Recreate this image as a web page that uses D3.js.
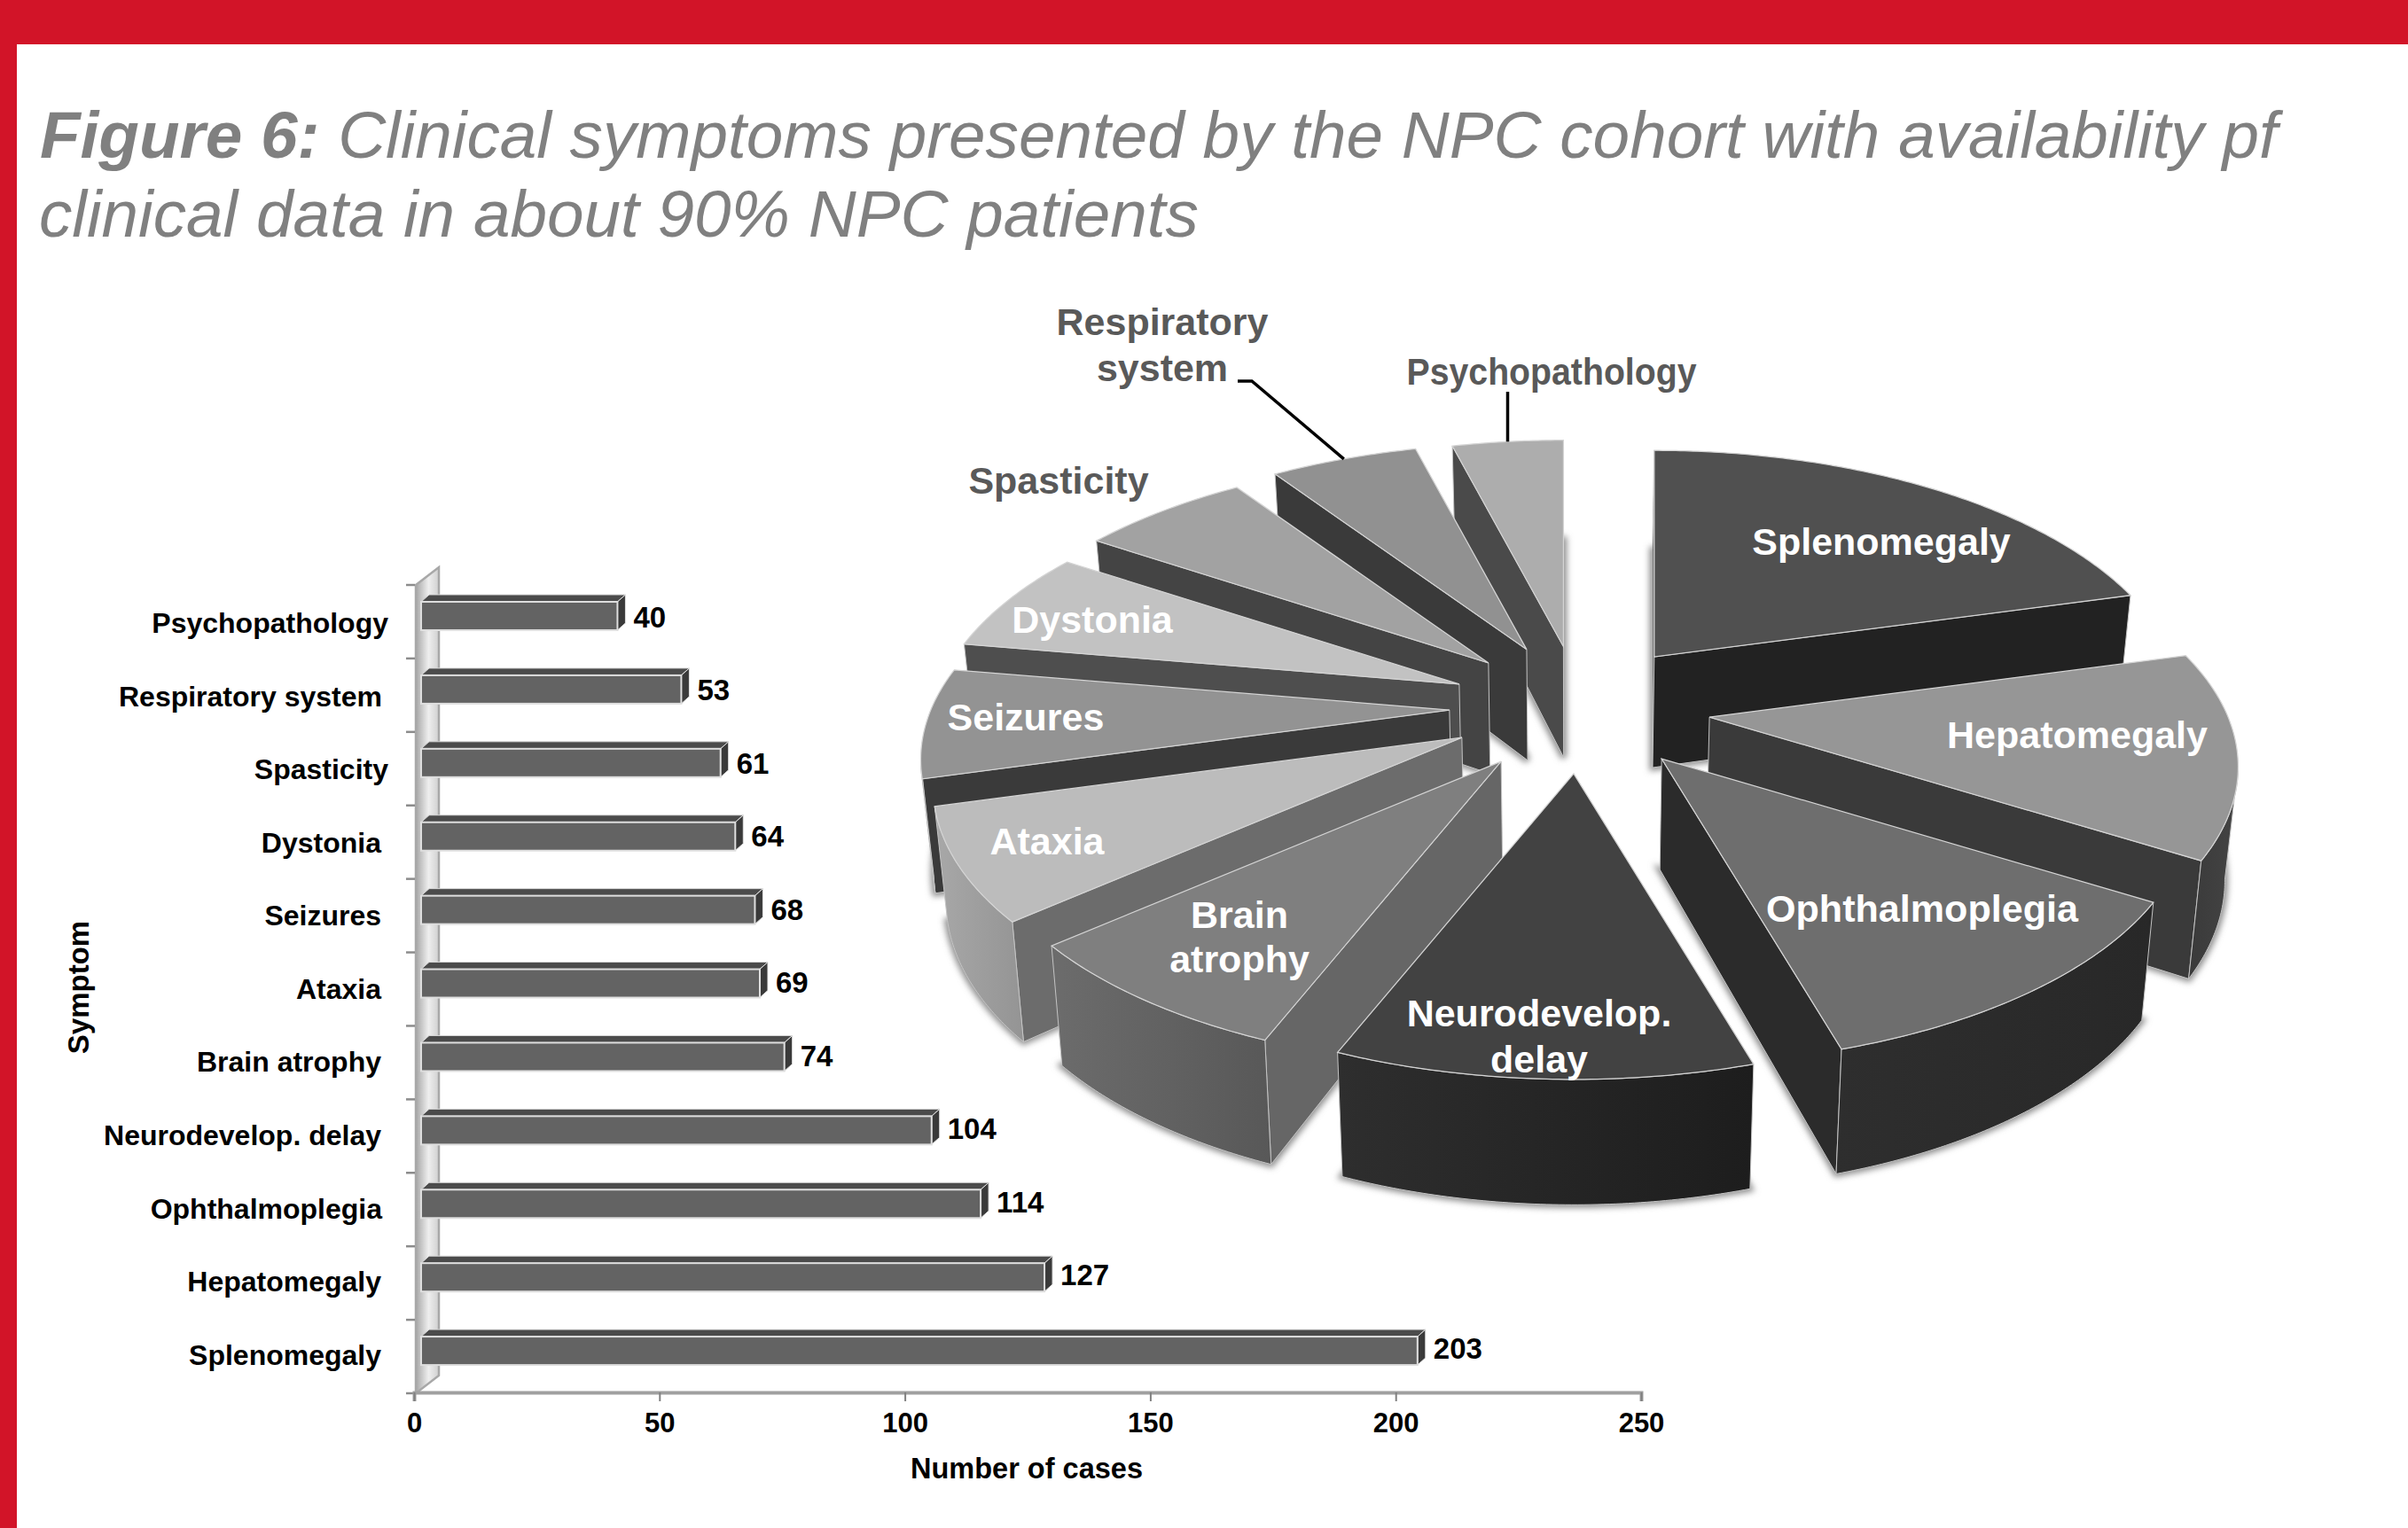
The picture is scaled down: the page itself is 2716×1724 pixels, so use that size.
<!DOCTYPE html>
<html>
<head>
<meta charset="utf-8">
<style>
  html, body { margin: 0; padding: 0; background: #fff; }
  svg { display: block; }
  text { font-family: "Liberation Sans", Arial, sans-serif; }
</style>
<script src="https://cdn.jsdelivr.net/npm/d3@7/dist/d3.min.js"></script>
</head>
<body>
<svg id="fig" width="2716" height="1724"></svg>
<script>
// Cases per symptom, most frequent first
const symptoms = ["Splenomegaly", "Hepatomegaly", "Ophthalmoplegia", "Neurodevelop. delay", "Brain atrophy",
                  "Ataxia", "Seizures", "Dystonia", "Spasticity", "Respiratory system", "Psychopathology"];
const cases = [203, 127, 114, 104, 74, 69, 68, 64, 61, 53, 40];
const xTicks = [0, 50, 100, 150, 200, 250];

// How far each wedge is pulled out of the pie, and in which direction (degrees clockwise from the back)
const explode = [0.243, 0.267, 0.279, 0.282, 0.272, 0.256, 0.241, 0.233, 0.230, 0.234, 0.228];
const explodeBearing = [41.4, 104.7, 144.5, 180, 209.4, 234.9, 260.6, 286.4, 312.6, 336.2, 354.8];

// Wedge shades: top face, cut face, outer wall (left and right ends of its gradient)
const topShade = ["#505050", "#969696", "#6e6e6e", "#424242", "#7f7f7f", "#bcbcbc", "#939393", "#c2c2c2", "#a2a2a2", "#919191", "#adadad"];
const cutShade = ["#222222", "#3a3a3a", "#2b2b2b", "#232323", "#666666", "#6c6c6c", "#3a3a3a", "#4e4e4e", "#444444", "#3a3a3a", "#4a4a4a"];
const wallFrom = ["#222222", "#3a3a3a", "#2e2e2e", "#2e2e2e", "#6c6c6c", "#a8a8a8", "#3a3a3a", "#4e4e4e", "#444444", "#3a3a3a", "#4a4a4a"];
const wallTo   = ["#222222", "#444444", "#282828", "#1d1d1d", "#585858", "#949494", "#3a3a3a", "#4e4e4e", "#444444", "#3a3a3a", "#4a4a4a"];

const svg = d3.select("#fig");
const defs = svg.append("defs");

// Page frame
const red = "#d21428";
svg.append("rect").attr("x", 0).attr("y", 0).attr("width", 2716).attr("height", 50).attr("fill", red);
svg.append("rect").attr("x", 0).attr("y", 0).attr("width", 19).attr("height", 1724).attr("fill", red);

// Heading
const heading = svg.append("g").attr("fill", "#808080").attr("font-size", 74.7).attr("font-style", "italic");
const line1 = heading.append("text").attr("x", 45).attr("y", 178);
line1.append("tspan").attr("font-weight", "bold").text("Figure 6:");
line1.append("tspan").text(" Clinical symptoms presented by the NPC cohort with availability pf");
heading.append("text").attr("x", 44).attr("y", 267).text("clinical data in about 90% NPC patients");

/* ---------- Bar chart ---------- */
const x = d3.scaleLinear().domain([0, 250]).range([467, 1851]);
const y = d3.scaleBand().domain(symptoms.slice().reverse()).range([660, 1572]);
// Text rows run on a slightly tighter pitch than the bars
const yText = d3.scaleBand().domain(y.domain()).range([661.7, 661.7 + 11 * 82.55]);
const wallDx = 26, wallDy = 20, barInset = 8, barDepthX = 9, barDepthY = 8, barTop = 19, barHeight = 32;

const wallGrad = defs.append("linearGradient").attr("id", "wall");
wallGrad.append("stop").attr("offset", 0).attr("stop-color", "#a6a6a6");
wallGrad.append("stop").attr("offset", 0.55).attr("stop-color", "#eeeeee");
wallGrad.append("stop").attr("offset", 1).attr("stop-color", "#d0d0d0");

const [y0, y1] = y.range();
const chart = svg.append("g");
chart.append("path")
  .attr("d", d3.line()([[x(0) + 2, y0], [x(0) + 2 + wallDx, y0 - wallDy], [x(0) + 2 + wallDx, y1 - wallDy], [x(0) + 2, y1]]) + "Z")
  .attr("fill", "url(#wall)").attr("stroke", "#a8a8a8").attr("stroke-width", 2.5);

// Category ticks sit on the band boundaries
chart.append("g").selectAll("line").data(d3.range(symptoms.length + 1)).join("line")
  .attr("x1", x(0) - 9).attr("x2", x(0) + 1)
  .attr("y1", i => y0 + i * y.bandwidth()).attr("y2", i => y0 + i * y.bandwidth())
  .attr("stroke", "#8c8c8c").attr("stroke-width", 2.5);

// Value axis
const xAxis = chart.append("g").attr("transform", `translate(0,${y1 - 1})`)
  .call(d3.axisBottom(x).tickValues(xTicks).tickSize(10).tickPadding(13));
xAxis.select(".domain").attr("stroke", "#a0a0a0").attr("stroke-width", 4);
xAxis.selectAll(".tick line").attr("stroke", "#808080").attr("stroke-width", 2);
xAxis.selectAll(".tick text").attr("font-family", "Liberation Sans").attr("font-size", 31).attr("font-weight", "bold").attr("fill", "#000");

// Bars with their small extruded top and end
const rows = symptoms.map((name, i) => ({ name, value: cases[i] }));
const bar = chart.append("g").selectAll("g").data(rows).join("g");
const left = x(0) + barInset;
const front = d => y(d.name) + barTop;
const right = d => left + x(d.value) - x(0);

bar.append("path")
  .attr("d", d => d3.line()([[left, front(d)], [left + barDepthX, front(d) - barDepthY],
                             [right(d) + barDepthX, front(d) - barDepthY], [right(d), front(d)]]) + "Z")
  .attr("fill", "#4b4b4b").attr("stroke", "#d8d8d8").attr("stroke-width", 1);
bar.append("path")
  .attr("d", d => d3.line()([[right(d), front(d)], [right(d) + barDepthX, front(d) - barDepthY],
                             [right(d) + barDepthX, front(d) + barHeight - barDepthY], [right(d), front(d) + barHeight]]) + "Z")
  .attr("fill", "#3a3a3a").attr("stroke", "#e4e4e4").attr("stroke-width", 1);
bar.append("rect")
  .attr("x", left).attr("y", front).attr("width", d => right(d) - left).attr("height", barHeight)
  .attr("fill", "#636363").attr("stroke", "#dedede").attr("stroke-width", 2);

bar.append("text")
  .attr("x", d => right(d) + 18).attr("y", d => yText(d.name) + yText.bandwidth() / 2 - 7).attr("dy", "0.35em")
  .attr("font-size", 33).attr("font-weight", "bold").attr("fill", "#000")
  .text(d => d.value);

// Category labels; a few sit further right than the common edge
const labelEnd = { "Psychopathology": 438, "Spasticity": 438, "Respiratory system": 431, "Ophthalmoplegia": 431 };
chart.append("g").selectAll("text").data(rows).join("text")
  .attr("x", d => labelEnd[d.name] || 430).attr("y", d => yText(d.name) + yText.bandwidth() / 2).attr("dy", "0.35em")
  .attr("text-anchor", "end").attr("font-size", 32).attr("font-weight", "bold").attr("fill", "#000")
  .text(d => d.name);

chart.append("text").attr("x", 1158).attr("y", 1657).attr("dy", "0.35em").attr("text-anchor", "middle")
  .attr("font-size", 32.5).attr("font-weight", "bold").text("Number of cases");
chart.append("text").attr("transform", "translate(88,1114) rotate(-90)").attr("dy", "0.35em").attr("text-anchor", "middle")
  .attr("font-size", 33).attr("font-weight", "bold").text("Symptom");

/* ---------- Exploded 3D pie ---------- */
const pieCentre = { x: 1775, y: 790 };
const spreadX = 585, spreadY = 278, foreshorten = 0.194;
const wallHeight = 125, wallTaper = 0.02;

// Ground-plane offset to screen offset, receding towards the back of the pie
const project = (ex, ez) => {
  const w = 1 + foreshorten * ez;
  return { x: spreadX * ex / w, y: -spreadY * ez / w };
};
const polar = a => project(Math.sin(a), Math.cos(a));

const arcs = d3.pie().sort(null).startAngle(0).endAngle(2 * Math.PI)(cases);

const wedges = arcs.map((arc, i) => {
  const bearing = explodeBearing[i] * Math.PI / 180;
  const off = project(explode[i] * Math.sin(bearing), explode[i] * Math.cos(bearing));
  const apex = { x: pieCentre.x + off.x, y: pieCentre.y + off.y };
  const rimAt = a => { const p = polar(a); return { x: apex.x + p.x, y: apex.y + p.y, z: Math.cos(a) }; };
  const drop = p => ({
    x: pieCentre.x + (p.x - pieCentre.x) * (1 - wallTaper),
    y: p.y + wallHeight / (1 + 0.6 * foreshorten * (p.z || 0))
  });
  const steps = Math.ceil((arc.endAngle - arc.startAngle) / 0.01);
  const rim = d3.range(steps + 1).map(k => rimAt(arc.startAngle + (arc.endAngle - arc.startAngle) * k / steps));
  return { i, arc, apex, rim, drop, rimAt };
});

const xy = p => [p.x, p.y];
const closed = pts => d3.line()(pts.map(xy)) + "Z";

defs.append("filter").attr("id", "halo").attr("x", "-10%").attr("y", "-10%").attr("width", "120%").attr("height", "120%")
  .append("feGaussianBlur").attr("stdDeviation", 3.5);

wedges.forEach(w => {
  const g = defs.append("linearGradient").attr("id", `wall${w.i}`);
  g.append("stop").attr("offset", 0).attr("stop-color", wallFrom[w.i]);
  g.append("stop").attr("offset", 1).attr("stop-color", wallTo[w.i]);
});

// A cut face shows only when the drop falls outside the top face of its wedge
const cutVisible = (w, rimPoint) => {
  const mid = w.rim[Math.floor(w.rim.length / 2)];
  const ex = rimPoint.x - w.apex.x, ey = rimPoint.y - w.apex.y;
  const sideMid = ex * (mid.y - w.apex.y) - ey * (mid.x - w.apex.x);
  return Math.sign(ex) !== Math.sign(sideMid);
};

// Painted back to front: the left-hand fan first, then the right side round to the front wedge
const paintOrder = [10, 9, 8, 7, 6, 5, 4, 0, 1, 2, 3];
const pie = svg.append("g");

paintOrder.forEach(idx => {
  const w = wedges[idx];
  const g = pie.append("g").attr("class", "wedge");
  const apexDrop = w.drop({ x: w.apex.x, y: w.apex.y, z: 0 });

  g.append("path")
    .attr("d", closed([apexDrop, ...w.rim.map(w.drop)]))
    .attr("fill", "#8e8e8e").attr("stroke", "#8e8e8e").attr("stroke-width", 7)
    .attr("filter", "url(#halo)");

  [w.rim[0], w.rim[w.rim.length - 1]].forEach(edge => {
    if (!cutVisible(w, edge)) return;
    g.append("path")
      .attr("d", closed([w.apex, edge, w.drop(edge), apexDrop]))
      .attr("fill", cutShade[idx]).attr("stroke", "#c4c4c4").attr("stroke-width", 1);
  });

  // Outer wall: only the stretch of rim running right to left faces the viewer
  const facing = w.rim.filter((p, k) => k + 1 < w.rim.length ? w.rim[k + 1].x < p.x : w.rim[k - 1].x > p.x);
  if (facing.length > 1) {
    g.append("path")
      .attr("d", closed([...facing, ...facing.slice().reverse().map(w.drop)]))
      .attr("fill", `url(#wall${idx})`).attr("stroke", "#c4c4c4").attr("stroke-width", 1);
  }

  g.append("path")
    .attr("d", closed([w.apex, ...w.rim]))
    .attr("fill", topShade[idx]).attr("stroke", "#d4d4d4").attr("stroke-width", 1.25);
});

// Leader lines run from the label to the middle of the wedge's rim
const rimMid = idx => wedges[idx].rimAt((arcs[idx].startAngle + arcs[idx].endAngle) / 2);
const leaders = svg.append("g").attr("fill", "none").attr("stroke", "#000").attr("stroke-width", 3.5);
const respiratory = rimMid(9), psychopathology = rimMid(10);
leaders.append("path").attr("d", d3.line()([[1396, 430], [1412, 430], xy(respiratory)]));
leaders.append("path").attr("d", d3.line()([[psychopathology.x, 442], xy(psychopathology)]));

// Wedge labels, one row per text line; a fit width pins the two that run wider or tighter
const pieLabels = [
  { t: "Splenomegaly", at: [2122, 611], c: "#fff" },
  { t: "Hepatomegaly", at: [2343, 829], c: "#fff" },
  { t: "Ophthalmoplegia", at: [2168, 1025], c: "#fff", fit: 352 },
  { t: "Neurodevelop.", at: [1736, 1143], c: "#fff" },
  { t: "delay", at: [1736, 1195], c: "#fff" },
  { t: "Brain", at: [1398, 1032], c: "#fff" },
  { t: "atrophy", at: [1398, 1082], c: "#fff" },
  { t: "Ataxia", at: [1181, 949], c: "#fff" },
  { t: "Seizures", at: [1157, 809], c: "#fff" },
  { t: "Dystonia", at: [1232, 699], c: "#fff" },
  { t: "Spasticity", at: [1194, 542], c: "#595959" },
  { t: "Respiratory", at: [1311, 363], c: "#595959" },
  { t: "system", at: [1311, 415], c: "#595959" },
  { t: "Psychopathology", at: [1750, 419], c: "#595959", fit: 327 }
];
svg.append("g").selectAll("text").data(pieLabels).join("text")
  .attr("x", d => d.at[0]).attr("y", d => d.at[1]).attr("dy", "0.35em")
  .attr("text-anchor", "middle").attr("font-size", 43).attr("font-weight", "bold")
  .attr("fill", d => d.c)
  .attr("textLength", d => d.fit || null)
  .attr("lengthAdjust", d => d.fit ? "spacingAndGlyphs" : null)
  .text(d => d.t);
</script>
</body>
</html>
